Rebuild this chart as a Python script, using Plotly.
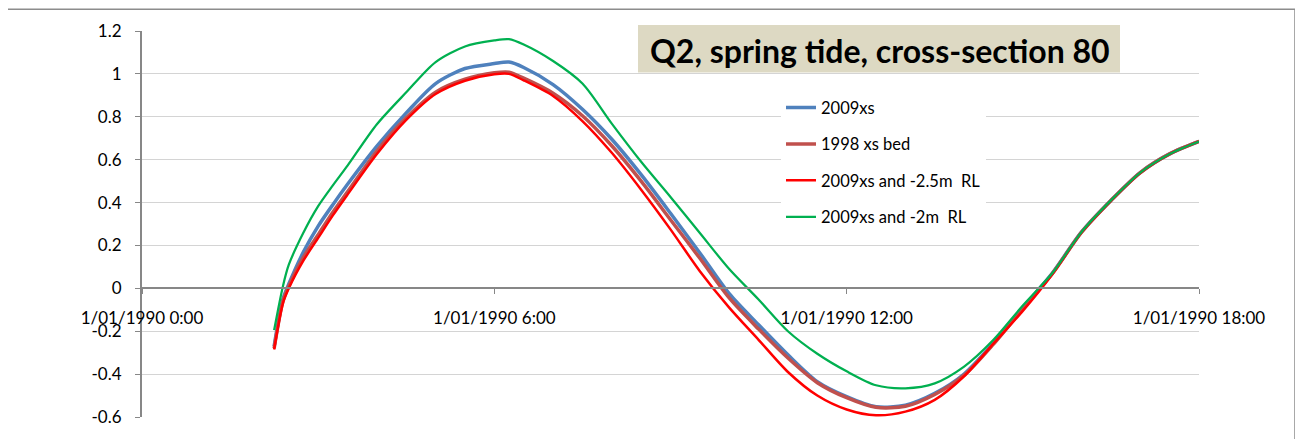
import plotly.graph_objects as go

# time of day (1 Jan 1990)
times = ["02:15", "02:24", "02:30", "02:45", "03:00", "03:15", "03:30", "04:00", "04:30",
         "05:00", "05:30", "06:00", "06:15", "06:30", "07:00", "07:30", "08:00", "08:30",
         "09:00", "09:30", "10:00", "10:30", "11:00", "11:30", "12:00", "12:30", "13:00",
         "13:30", "14:00", "14:30", "15:00", "15:30", "16:00", "16:30", "17:00", "17:30", "18:00"]

xs_2009 = [-0.27, -0.05, 0.02, 0.17, 0.29, 0.39, 0.485, 0.663, 0.818,
           0.955, 1.025, 1.048, 1.055, 1.03, 0.95, 0.835, 0.695, 0.53,
           0.35, 0.165, -0.025, -0.17, -0.31, -0.435, -0.505, -0.552, -0.545,
           -0.49, -0.40, -0.255, -0.09, 0.07, 0.263, 0.41, 0.54, 0.627, 0.685]

xs_1998_bed = [-0.28, -0.06, 0.01, 0.145, 0.25, 0.355, 0.45, 0.64, 0.795,
               0.915, 0.975, 1.005, 1.008, 0.98, 0.91, 0.805, 0.665, 0.50,
               0.32, 0.14, -0.045, -0.19, -0.325, -0.44, -0.51, -0.555, -0.55,
               -0.495, -0.405, -0.26, -0.095, 0.068, 0.262, 0.41, 0.54, 0.627, 0.685]

xs_2009_25 = [-0.285, -0.07, 0.0, 0.13, 0.235, 0.34, 0.437, 0.626, 0.785,
              0.906, 0.968, 0.998, 1.0, 0.97, 0.897, 0.78, 0.632, 0.46,
              0.275, 0.08, -0.09, -0.24, -0.39, -0.50, -0.565, -0.592, -0.575,
              -0.52, -0.41, -0.258, -0.105, 0.065, 0.26, 0.408, 0.538, 0.626, 0.685]

xs_2009_2 = [-0.195, 0.01, 0.11, 0.26, 0.383, 0.48, 0.572, 0.765, 0.914,
             1.055, 1.128, 1.156, 1.162, 1.137, 1.06, 0.955, 0.768, 0.59,
             0.426, 0.258, 0.09, -0.052, -0.2, -0.305, -0.387, -0.452, -0.466,
             -0.443, -0.365, -0.24, -0.08, 0.07, 0.263, 0.41, 0.54, 0.627, 0.685]

series_names = ["2009xs", "1998 xs bed", "2009xs and -2.5m\u00a0\u00a0RL", "2009xs and -2m\u00a0\u00a0RL"]
series_values = [xs_2009, xs_1998_bed, xs_2009_25, xs_2009_2]
series_colors = ["#4F81BD", "#C0504D", "#FF0000", "#00B050"]
series_widths = [3.5, 3.5, 2.5, 2.25]

tick_times = ["00:00", "06:00", "12:00", "18:00"]
tick_labels = ["1/01/1990 0:00", "1/01/1990 6:00", "1/01/1990 12:00", "1/01/1990 18:00"]
y_ticks = [-0.6, -0.4, -0.2, 0, 0.2, 0.4, 0.6, 0.8, 1.0, 1.2]
y_tick_labels = ["-0.6", "-0.4", "-0.2", "0", "0.2", "0.4", "0.6", "0.8", "1", "1.2"]
title_text = "Q2, spring tide, cross-section 80"

day = "1990-01-01 "
x_vals = [day + t for t in times]

# the page body adds an 8px offset; layout numbers below are screen pixels
OFF = 8
W, H = 1303, 439
plot_left, plot_right, plot_top, plot_bottom = 142, 1199, 26, 417
L = plot_left - OFF
T = plot_top - OFF
R = W - (plot_right - OFF)
B = H - (plot_bottom - OFF)
pw, ph = plot_right - plot_left, plot_bottom - plot_top


def px(xs):
    return (xs - plot_left) / pw


def py(ys):
    return (plot_bottom - ys) / ph


FONT = "Lato, Calibri, sans-serif"

fig = go.Figure()
for i, (name, vals, col, w) in enumerate(zip(series_names, series_values, series_colors, series_widths)):
    fig.add_trace(go.Scatter(x=x_vals, y=vals, mode="lines", name=name,
                             legendgroup=f"g{i}",
                             line=dict(color=col, width=w, shape="spline", smoothing=0.8)))

fig.update_layout(
    width=W, height=H,
    margin=dict(l=L, r=R, t=T, b=B, pad=0),
    paper_bgcolor="white", plot_bgcolor="white",
    font=dict(family=FONT, size=17, color="#000000"),
    showlegend=True,
    legend=dict(x=px(781), y=py(86), xanchor="left", yanchor="top",
                bgcolor="white", borderwidth=0, tracegroupgap=12,
                font=dict(family=FONT, size=16.5, color="#000000")),
    xaxis=dict(type="date", range=[day + "00:00", day + "18:00"],
               tickvals=[day + t for t in tick_times], ticktext=tick_labels,
               showgrid=False, zeroline=False,
               showline=True, linecolor="#878787", linewidth=2,
               ticks="outside", ticklen=5, tickcolor="#878787", tickwidth=1,
               anchor="free", position=0.6 / 1.8,
               ticklabelstandoff=9,
               tickfont=dict(family=FONT, size=17, color="#000000")),
    yaxis=dict(range=[-0.6, 1.2], tickvals=y_ticks, ticktext=y_tick_labels,
               showgrid=True, gridcolor="#D4D4D4", gridwidth=1,
               zeroline=False,
               showline=True, linecolor="#878787", linewidth=2,
               ticks="outside", ticklen=5, tickcolor="#878787", tickwidth=1,
               ticklabelstandoff=10,
               tickfont=dict(family=FONT, size=17, color="#000000")),
    shapes=[
        dict(type="rect", xref="paper", yref="paper",
             x0=px(638), x1=px(1120), y0=py(68), y1=py(20),
             fillcolor="#DDD9C3", line=dict(width=0), layer="between"),
        dict(type="rect", xref="paper", yref="paper",
             x0=px(7), x1=px(1295), y0=py(470), y1=py(4),
             fillcolor="rgba(0,0,0,0)", line=dict(color="#8C8C8C", width=1.5), layer="above"),
    ],
    annotations=[
        dict(text="<b>" + title_text + "</b>", xref="paper", yref="paper",
             x=px(880), y=py(46), xanchor="center", yanchor="middle",
             showarrow=False, font=dict(family=FONT, size=32, color="#000000")),
    ],
)

fig.write_html("out.html")
